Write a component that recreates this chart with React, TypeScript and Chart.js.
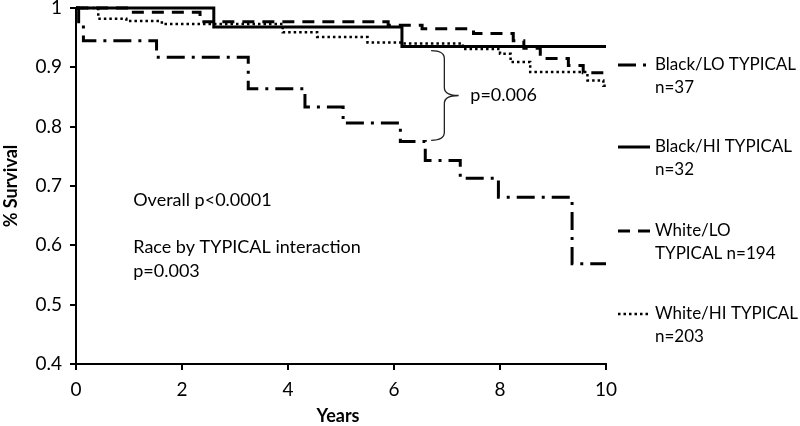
import React, { useEffect, useRef } from "react";
import { Chart, registerables } from "chart.js";

Chart.register(...registerables);

const FONT = "Lato, 'Liberation Sans', sans-serif";
const FS = 18;
const TICK_FS = 19;
const LEGEND_FS = 17;

// Axis ticks
const xTicks = [0, 2, 4, 6, 8, 10];
const yTicks = [0.4, 0.5, 0.6, 0.7, 0.8, 0.9, 1];

// Series (Kaplan-Meier steps: survival from this time onwards)
const blackLoYears = [0, 0.05, 0.14, 1.52, 3.25, 4.32, 5.04, 6.12, 6.59, 7.25, 7.97, 9.36, 10];
const blackLoSurvival = [1, 0.972, 0.945, 0.917, 0.864, 0.833, 0.806, 0.775, 0.743, 0.713, 0.681, 0.569, 0.569];

const blackHiYears = [0, 2.6, 6.15, 10];
const blackHiSurvival = [1, 0.968, 0.935, 0.935];

const whiteLoYears = [0, 1.0, 2.34, 5.89, 6.53, 7.5, 8.25, 8.45, 8.76, 9.29, 9.57, 10];
const whiteLoSurvival = [1, 0.993, 0.977, 0.971, 0.965, 0.957, 0.945, 0.932, 0.915, 0.903, 0.891, 0.891];

const whiteHiYears = [0, 0.42, 0.95, 1.62, 3.9, 4.55, 5.5, 6.17, 7.3, 8.0, 8.2, 8.57, 9.65, 9.95, 10];
const whiteHiSurvival = [1, 0.982, 0.978, 0.973, 0.959, 0.951, 0.942, 0.94, 0.931, 0.923, 0.909, 0.892, 0.878, 0.869, 0.869];

// Texts
const legendLines = [
  ["Black/LO TYPICAL", "n=37"],
  ["Black/HI TYPICAL", "n=32"],
  ["White/LO", "TYPICAL n=194"],
  ["White/HI TYPICAL", "n=203"],
];
const noteLines = ["Overall p<0.0001", "Race by TYPICAL interaction", "p=0.003"];
const pairNote = "p=0.006";
const xTitle = "Years";
const yTitle = "% Survival";

const styles = [
  { width: 3, dash: [18, 7, 3, 7] },
  { width: 3, dash: [] as number[] },
  { width: 3, dash: [12, 8] },
  { width: 2.5, dash: [2.5, 3] },
];

const toPoints = (xs: number[], ys: number[]) => xs.map((x, i) => ({ x, y: ys[i] }));

const overlay = {
  id: "overlay",
  afterDraw(chart: any) {
    const { ctx, chartArea } = chart;
    const xs = chart.scales.x;
    const ys = chart.scales.y;
    ctx.save();
    ctx.fillStyle = "#000";
    ctx.strokeStyle = "#000";

    // axis titles
    ctx.font = `bold ${FS}px ${FONT}`;
    ctx.textAlign = "center";
    ctx.textBaseline = "middle";
    ctx.save();
    ctx.translate(11, (chartArea.top + chartArea.bottom) / 2);
    ctx.rotate(-Math.PI / 2);
    ctx.fillText(yTitle, 0, 0);
    ctx.restore();
    ctx.fillText(xTitle, (chartArea.left + chartArea.right) / 2 - 3, 416);

    // notes
    ctx.font = `${FS}px ${FONT}`;
    ctx.textAlign = "left";
    const nx = xs.getPixelForValue(1.08);
    const ny = ys.getPixelForValue(0.676);
    ctx.fillText(noteLines[0], nx, ny);
    ctx.fillText(noteLines[1], nx, ny + 47);
    ctx.fillText(noteLines[2], nx, ny + 71);

    // brace
    const x0 = xs.getPixelForValue(6.7);
    const xm = xs.getPixelForValue(6.95);
    const x1 = xs.getPixelForValue(7.22);
    const yT = ys.getPixelForValue(0.928);
    const yB = ys.getPixelForValue(0.777);
    const yM = (yT + yB) / 2;
    ctx.beginPath();
    ctx.lineWidth = 1.3;
    ctx.strokeStyle = "#222";
    ctx.moveTo(x0, yT);
    ctx.quadraticCurveTo(xm, yT, xm, yT + 8);
    ctx.lineTo(xm, yM - 8);
    ctx.quadraticCurveTo(xm, yM, x1, yM);
    ctx.quadraticCurveTo(xm, yM, xm, yM + 8);
    ctx.lineTo(xm, yB - 8);
    ctx.quadraticCurveTo(xm, yB, x0, yB);
    ctx.stroke();
    ctx.fillText(pairNote, xs.getPixelForValue(7.44), yM);

    // legend
    ctx.font = `${LEGEND_FS}px ${FONT}`;
    const ly = [65, 147, 231, 314];
    legendLines.forEach((lines, i) => {
      const y0 = ly[i];
      ctx.beginPath();
      ctx.strokeStyle = "#000";
      ctx.lineWidth = styles[i].width;
      ctx.setLineDash(styles[i].dash);
      ctx.moveTo(618, y0);
      ctx.lineTo(650, y0);
      ctx.stroke();
      ctx.setLineDash([]);
      ctx.fillText(lines[0], 655, y0);
      ctx.fillText(lines[1], 655, y0 + 23);
    });
    ctx.restore();
  },
};

export default function App() {
  const ref = useRef<HTMLCanvasElement>(null);
  useEffect(() => {
    if (!ref.current) return;
    const series = [
      toPoints(blackLoYears, blackLoSurvival),
      toPoints(blackHiYears, blackHiSurvival),
      toPoints(whiteLoYears, whiteLoSurvival),
      toPoints(whiteHiYears, whiteHiSurvival),
    ];
    const chart = new Chart(ref.current, {
      type: "line",
      data: {
        datasets: series.map((d, i) => ({
          label: legendLines[i].join(" "),
          data: d,
          borderColor: "#000",
          borderWidth: styles[i].width,
          borderDash: styles[i].dash,
          stepped: "before" as const,
          pointRadius: 0,
          fill: false,
          clip: false as any,
        })),
      },
      options: {
        animation: false,
        responsive: false,
        devicePixelRatio: 1,
        layout: { padding: { left: 0, right: 194, top: 8, bottom: 0 } },
        plugins: { legend: { display: false }, tooltip: { enabled: false } },
        scales: {
          x: {
            type: "linear",
            min: 0,
            max: 10,
            afterBuildTicks: (s: any) => {
              s.ticks = xTicks.map((v) => ({ value: v }));
            },
            afterFit: (s: any) => {
              s.height = 62;
              s.paddingLeft = 0;
              s.paddingRight = 0;
            },
            ticks: {
              color: "#000",
              font: { family: FONT, size: TICK_FS },
              padding: 8,
              maxRotation: 0,
              callback: (v: any) => String(v),
            },
            grid: { drawOnChartArea: false, color: "#000", lineWidth: 2, tickLength: 6 },
            border: { display: true, color: "#000", width: 2 },
          },
          y: {
            type: "linear",
            min: 0.4,
            max: 1,
            afterBuildTicks: (s: any) => {
              s.ticks = yTicks.map((v) => ({ value: v }));
            },
            afterFit: (s: any) => {
              s.width = 76;
              s.paddingTop = 0;
              s.paddingBottom = 0;
            },
            ticks: {
              color: "#000",
              font: { family: FONT, size: TICK_FS },
              padding: 8,
              callback: (v: any) => String(Math.round(v * 10) / 10),
            },
            grid: { drawOnChartArea: false, color: "#000", lineWidth: 2, tickLength: 6 },
            border: { display: true, color: "#000", width: 2 },
          },
        },
      },
      plugins: [overlay],
    });
    return () => chart.destroy();
  }, []);
  return (
    <div style={{ position: "absolute", left: 0, top: 0, width: 800, height: 426, background: "#fff" }}>
      <canvas ref={ref} width={800} height={426} />
    </div>
  );
}
